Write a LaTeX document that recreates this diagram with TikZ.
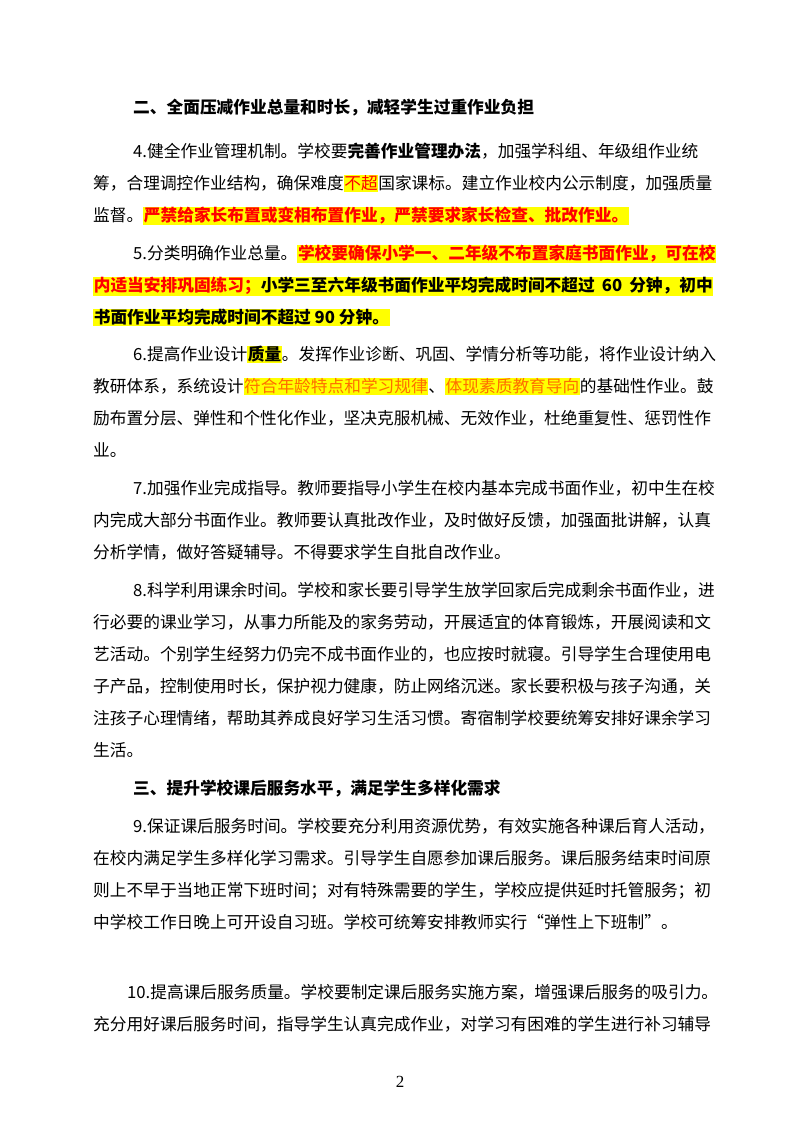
\documentclass[tikz,border=0pt]{standalone}
\usepackage{fontspec}
\setmainfont{Noto Sans CJK SC}
\newfontfamily\serf{Liberation Serif}
\definecolor{hlyellow}{RGB}{255,255,0}
\definecolor{hlred}{RGB}{255,0,0}
\definecolor{hlorange}{RGB}{255,110,0}
\XeTeXinterchartokenstate=1
\newcommand\cjkglue{\hskip0pt plus 3pt minus 0.6pt\relax}
\XeTeXinterchartoks 1 1 = {\cjkglue}
\XeTeXinterchartoks 1 2 = {\cjkglue}
\XeTeXinterchartoks 1 3 = {\cjkglue}
\XeTeXinterchartoks 3 1 = {\cjkglue}
\XeTeXinterchartoks 3 2 = {\cjkglue}
\XeTeXinterchartoks 2 1 = {\cjkglue}
\XeTeXinterchartoks 3 3 = {\cjkglue}
\newcommand\hly[1]{{\setlength\fboxsep{0.6pt}\colorbox{hlyellow}{#1}}}
\newcommand\jl[3]{\node[line] at (#1pt,#2pt) {\hbox to \dimexpr712pt-#1pt\relax{#3}};}
\newcommand\jlh[3]{\node[line,fill=hlyellow,inner sep=0.6pt] at (#1pt,#2pt) {\hbox to \dimexpr712pt-#1pt\relax{#3}};}
\newcommand\nl[3]{\node[line] at (#1pt,#2pt) {#3};}
\tikzset{line/.style={anchor=base west,inner sep=0pt,font=\fontsize{16.7}{20}\selectfont}}
\begin{document}
\begin{tikzpicture}
\useasboundingbox[fill=white] (0,0) rectangle (800pt,1132pt);
\nl{133}{1018}{\bfseries 二、全面压减作业总量和时长，减轻学生过重作业负担}
\jl{133}{974}{4.健全作业管理机制。学校要\textbf{完善作业管理办法}，加强学科组、年级组作业统}
\jl{93}{942}{筹，合理调控作业结构，确保难度\hly{\textcolor{hlred}{不超}}国家课标。建立作业校内公示制度，加强质量}
\nl{93}{910}{监督。\hly{\color{hlred}\bfseries 严禁给家长布置或变相布置作业，严禁要求家长检查、批改作业。}}
\jl{133}{872}{5.分类明确作业总量。\hly{\color{hlred}\bfseries 学校要确保小学一、二年级不布置家庭书面作业，可在校}}
\jlh{93}{840}{\bfseries\textcolor{hlred}{内适当安排巩固练习；}小学三至六年级书面作业平均完成时间不超过 60 分钟，初中}
\nl{93}{808}{\hly{\bfseries 书面作业平均完成时间不超过 90 分钟。}}
\jl{133}{771}{6.提高作业设计\hly{\bfseries 质量}。发挥作业诊断、巩固、学情分析等功能，将作业设计纳入}
\jl{93}{739}{教研体系，系统设计\hly{\color{hlorange}符合年龄特点和学习规律}、\hly{\color{hlorange}体现素质教育导向}的基础性作业。鼓}
\jl{93}{707}{励布置分层、弹性和个性化作业，坚决克服机械、无效作业，杜绝重复性、惩罚性作}
\nl{93}{675}{业。}
\jl{133}{637}{7.加强作业完成指导。教师要指导小学生在校内基本完成书面作业，初中生在校}
\jl{93}{605}{内完成大部分书面作业。教师要认真批改作业，及时做好反馈，加强面批讲解，认真}
\nl{93}{573}{分析学情，做好答疑辅导。不得要求学生自批自改作业。}
\jl{133}{535}{8.科学利用课余时间。学校和家长要引导学生放学回家后完成剩余书面作业，进}
\jl{93}{503}{行必要的课业学习，从事力所能及的家务劳动，开展适宜的体育锻炼，开展阅读和文}
\jl{93}{471}{艺活动。个别学生经努力仍完不成书面作业的，也应按时就寝。引导学生合理使用电}
\jl{93}{439}{子产品，控制使用时长，保护视力健康，防止网络沉迷。家长要积极与孩子沟通，关}
\jl{93}{407}{注孩子心理情绪，帮助其养成良好学习生活习惯。寄宿制学校要统筹安排好课余学习}
\nl{93}{375}{生活。}
\nl{133}{337}{\bfseries 三、提升学校课后服务水平，满足学生多样化需求}
\jl{133}{299}{9.保证课后服务时间。学校要充分利用资源优势，有效实施各种课后育人活动，}
\jl{93}{267}{在校内满足学生多样化学习需求。引导学生自愿参加课后服务。课后服务结束时间原}
\jl{93}{235}{则上不早于当地正常下班时间；对有特殊需要的学生，学校应提供延时托管服务；初}
\nl{93}{203}{中学校工作日晚上可开设自习班。学校可统筹安排教师实行“弹性上下班制”。}
\jl{127}{133}{10.提高课后服务质量。学校要制定课后服务实施方案，增强课后服务的吸引力。}
\jl{93}{101}{充分用好课后服务时间，指导学生认真完成作业，对学习有困难的学生进行补习辅导}
\node[anchor=base,inner sep=0pt,font=\serf\fontsize{17}{20}\selectfont] (pg) at (400pt,44pt) {2};
\end{tikzpicture}
\end{document}
